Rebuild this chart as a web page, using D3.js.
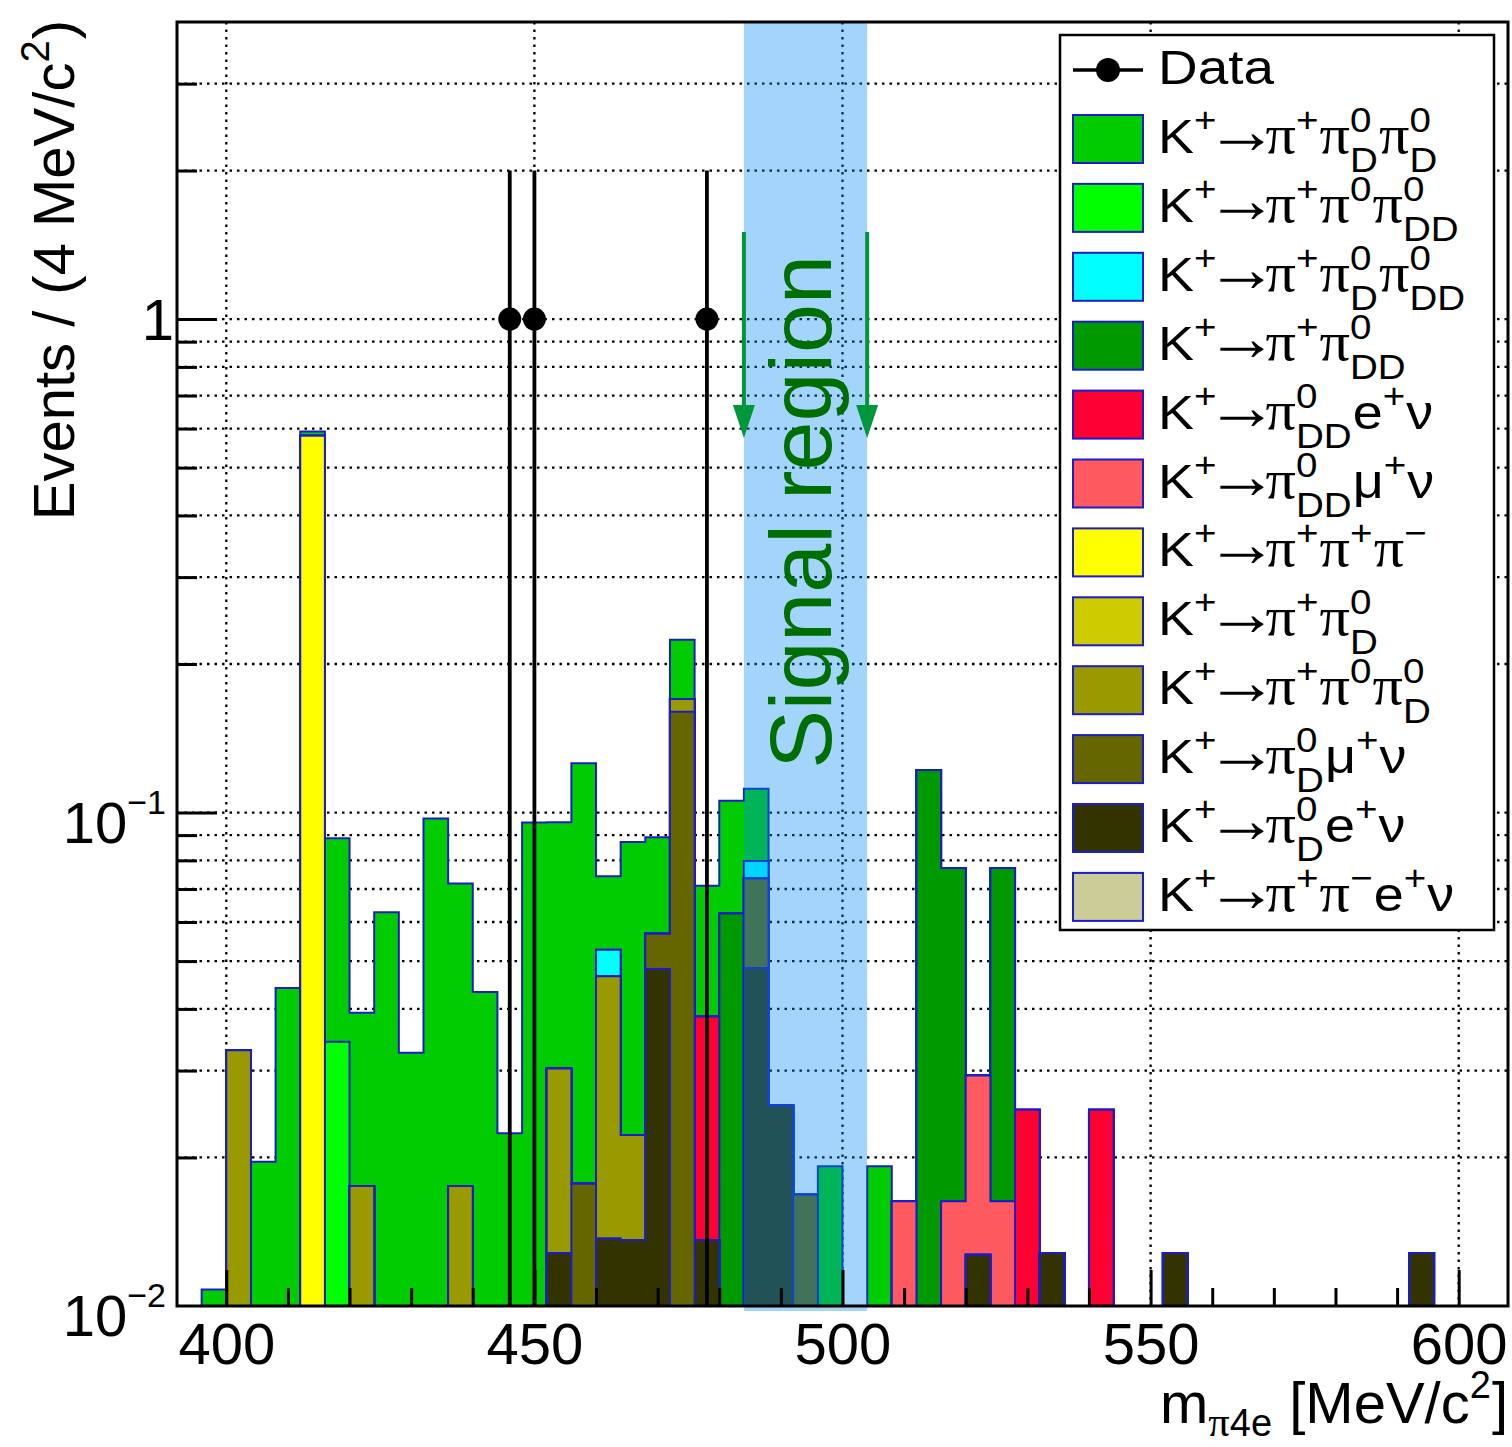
<!DOCTYPE html>
<html>
<head>
<meta charset="utf-8">
<script src="https://cdn.jsdelivr.net/npm/d3@7/dist/d3.min.js"></script>
<style>
  body { margin: 0; background: #fff; }
  text { white-space: pre; }
</style>
</head>
<body>
<svg id="svg"></svg>
<script>
"use strict";

// ---- data ----------------------------------------------------------
var xRange = [392, 608];          // MeV/c2, 4 MeV bins
var yRange = [0.01, 4];
var binWidth = 4;
var xMajor = [400, 450, 500, 550, 600];
var xMinor = [410, 420, 430, 440, 460, 470, 480, 490, 510, 520, 530, 540, 560, 570, 580, 590];
var yMajor = [0.1, 1];
var yMinor = [0.02, 0.03, 0.04, 0.05, 0.06, 0.07, 0.08, 0.09,
              0.2, 0.3, 0.4, 0.5, 0.6, 0.7, 0.8, 0.9, 2, 3];
var yLabels = [[0.01, "10^{\u22122}"], [0.1, "10^{\u22121}"], [1, "1"]];

// stacked MC contributions: [bin lower edge, expected events]
var piPi0DPi0D   = [[396,0.0108],[404,0.0196],[408,0.0441],[412,0.012],[416,0.0544],[420,0.0218],
                    [424,0.0628],[428,0.0326],[432,0.0973],[436,0.0543],[440,0.0433],[444,0.0224],
                    [448,0.0955],[452,0.0653],[456,0.1081],[460,0.0216],[464,0.065],[468,0.0323],
                    [472,0.0542],[476,0.0325],[480,0.0432],[484,0.032],[496,0.0192],[504,0.0192]];
var piPi0Pi0DD   = [[416,0.0343]];
var piPi0DPi0DD  = [[460,0.0061],[484,0.0063]];
var piPi0DD      = [[480,0.0624],[512,0.1219],[516,0.0609],[524,0.0609]];
var pi0DDEnu     = [[476,0.025],[528,0.025],[540,0.025]];
var pi0DDMunu    = [[508,0.0163],[516,0.0163],[520,0.0166],[524,0.0163]];
var piPiPi       = [[412,0.58]];
var piPi0D       = [];
var piPi0Pi0D    = [[400,0.033],[420,0.0175],[436,0.0175],[452,0.0175],[460,0.0329],[464,0.0086],[472,0.0098]];
var pi0DMunu     = [[456,0.0177],[468,0.0086],[472,0.160],[484,0.0251],[492,0.0168]];
var pi0DEnu      = [[452,0.0128],[460,0.0137],[464,0.0136],[468,0.0482],[476,0.0136],[484,0.0484],
                    [488,0.0255],[520,0.0127],[532,0.0128],[552,0.0128],[592,0.0128]];
var piPiEnu      = [];

// data: bin lower edge, counts
var dataBins = [444, 448, 476];
var dataCounts = [1, 1, 1];

var signalRegion = [484, 504];

// legend order (top of stack first)
var series = [
  {key:"a", values:piPi0DPi0D,  color:"#00cc00", label:"K^{+}\u2192\u03c0^{+}\u03c0^{0}_{D}\u03c0^{0}_{D}"},
  {key:"b", values:piPi0Pi0DD,  color:"#00ff00", label:"K^{+}\u2192\u03c0^{+}\u03c0^{0}\u03c0^{0}_{DD}"},
  {key:"c", values:piPi0DPi0DD, color:"#00ffff", label:"K^{+}\u2192\u03c0^{+}\u03c0^{0}_{D}\u03c0^{0}_{DD}"},
  {key:"d", values:piPi0DD,     color:"#009900", label:"K^{+}\u2192\u03c0^{+}\u03c0^{0}_{DD}"},
  {key:"e", values:pi0DDEnu,    color:"#ff0033", label:"K^{+}\u2192\u03c0^{0}_{DD}e^{+}\u03bd"},
  {key:"f", values:pi0DDMunu,   color:"#ff5a60", label:"K^{+}\u2192\u03c0^{0}_{DD}\u03bc^{+}\u03bd"},
  {key:"g", values:piPiPi,      color:"#ffff00", label:"K^{+}\u2192\u03c0^{+}\u03c0^{+}\u03c0^{\u2212}"},
  {key:"h", values:piPi0D,      color:"#cccc00", label:"K^{+}\u2192\u03c0^{+}\u03c0^{0}_{D}"},
  {key:"i", values:piPi0Pi0D,   color:"#999900", label:"K^{+}\u2192\u03c0^{+}\u03c0^{0}\u03c0^{0}_{D}"},
  {key:"j", values:pi0DMunu,    color:"#666600", label:"K^{+}\u2192\u03c0^{0}_{D}\u03bc^{+}\u03bd"},
  {key:"k", values:pi0DEnu,     color:"#333300", label:"K^{+}\u2192\u03c0^{0}_{D}e^{+}\u03bd"},
  {key:"l", values:piPiEnu,     color:"#cccc99", label:"K^{+}\u2192\u03c0^{+}\u03c0^{\u2212}e^{+}\u03bd"}
];

// ---- setup ---------------------------------------------------------
var W = 1512, H = 1447;
var frame = {l:177, r:1508, t:22, b:1306};
var sans = "'Liberation Sans', Arial, Helvetica, sans-serif";
var serif = "'Liberation Serif', 'Times New Roman', serif";
var outline = "#1c1cc8";

var svg = d3.select("#svg").attr("width", W).attr("height", H);
svg.append("rect").attr("width", W).attr("height", H).attr("fill", "#fff");

var x = d3.scaleLinear().domain(xRange).range([frame.l, frame.r]);
var y = d3.scaleLog().domain(yRange).range([frame.b, frame.t]).clamp(true);
var yv = function(v){ return y(Math.max(v, 1e-4)); };

// grid
var grid = svg.append("g")
  .attr("stroke", "#000")
  .attr("stroke-width", 2.3)
  .attr("stroke-dasharray", "2.5 5");
grid.selectAll("line.gy").data(yMinor.concat(yMajor)).enter().append("line")
  .attr("class", "gy")
  .attr("x1", frame.l).attr("x2", frame.r)
  .attr("y1", function(d){ return y(d); }).attr("y2", function(d){ return y(d); });
grid.selectAll("line.gx").data(xMajor).enter().append("line")
  .attr("class", "gx")
  .attr("y1", frame.t).attr("y2", frame.b)
  .attr("x1", function(d){ return x(d); }).attr("x2", function(d){ return x(d); });

// ---- stacked histogram ---------------------------------------------
var binLow = d3.range(xRange[0], xRange[1], binWidth);
var stackOrder = series.slice().reverse();   // bottom first
var rows = binLow.map(function(m){
  var r = {m:m};
  stackOrder.forEach(function(s){ r[s.key] = 0; });
  return r;
});
stackOrder.forEach(function(s){
  s.values.forEach(function(p){ rows[(p[0] - xRange[0]) / binWidth][s.key] = p[1]; });
});
var stacked = d3.stack().keys(stackOrder.map(function(s){ return s.key; }))(rows);

var area = d3.area()
  .curve(d3.curveStepAfter)
  .x(function(d){ return x(d.m); })
  .y0(frame.b)
  .y1(function(d){ return yv(d.v); });

var histG = svg.append("g");
for (var k = stacked.length - 1; k >= 0; k--) {
  var pts = stacked[k].map(function(d){ return {m:d.data.m, v:d[1]}; });
  pts.push({m:xRange[1], v:0});
  histG.append("path")
    .datum(pts)
    .attr("d", area)
    .attr("fill", stackOrder[k].color)
    .attr("stroke", outline)
    .attr("stroke-width", 2);
}

// ---- data points ---------------------------------------------------
var dataPts = dataBins.map(function(m, i){ return {m:m + binWidth/2, n:dataCounts[i]}; });
var dataG = svg.append("g");
dataG.selectAll("line").data(dataPts).enter().append("line")
  .attr("x1", function(d){ return x(d.m); }).attr("x2", function(d){ return x(d.m); })
  .attr("y1", function(d){ return yv(d.n + Math.sqrt(d.n)); })
  .attr("y2", function(d){ return yv(d.n - Math.sqrt(d.n)); })
  .attr("stroke", "#000").attr("stroke-width", 3.8);
dataG.selectAll("circle").data(dataPts).enter().append("circle")
  .attr("cx", function(d){ return x(d.m); })
  .attr("cy", function(d){ return y(d.n); })
  .attr("r", 11.5).attr("fill", "#000");

// ---- signal region -------------------------------------------------
svg.append("rect")
  .attr("x", x(signalRegion[0])).attr("width", x(signalRegion[1]) - x(signalRegion[0]))
  .attr("y", frame.t).attr("height", frame.b - frame.t + 5)
  .attr("fill", "rgb(0,138,244)").attr("fill-opacity", 0.36);

var arrowG = svg.append("g").attr("fill", "#00963c").attr("stroke", "#00963c");
signalRegion.forEach(function(m){
  var ax = x(m);
  arrowG.append("line").attr("x1", ax).attr("x2", ax).attr("y1", 232).attr("y2", 410)
    .attr("stroke-width", 4);
  arrowG.append("path")
    .attr("d", "M" + (ax - 11) + ",405L" + (ax + 11) + ",405L" + ax + ",438Z")
    .attr("stroke", "none");
});

svg.append("text")
  .attr("transform", "translate(831," + 512 + ") rotate(-90)")
  .attr("text-anchor", "middle")
  .attr("font-family", sans).attr("font-size", 88)
  .attr("fill", "#006e00")
  .text("Signal region");

// ---- axes ----------------------------------------------------------
function styleAxis(g){
  g.select(".domain").remove();
  g.selectAll(".tick line").attr("stroke", "#000").attr("stroke-width", 3);
}
svg.append("g").attr("transform", "translate(0," + frame.b + ")")
  .call(d3.axisTop(x).tickValues(xMajor).tickSize(36).tickFormat(""))
  .call(styleAxis);
svg.append("g").attr("transform", "translate(0," + frame.b + ")")
  .call(d3.axisTop(x).tickValues(xMinor).tickSize(18).tickFormat(""))
  .call(styleAxis);
svg.append("g").attr("transform", "translate(" + frame.l + ",0)")
  .call(d3.axisRight(y).tickValues(yMajor).tickSize(40).tickFormat(""))
  .call(styleAxis);
svg.append("g").attr("transform", "translate(" + frame.l + ",0)")
  .call(d3.axisRight(y).tickValues(yMinor).tickSize(20).tickFormat(""))
  .call(styleAxis);

svg.append("rect")
  .attr("x", frame.l).attr("y", frame.t)
  .attr("width", frame.r - frame.l).attr("height", frame.b - frame.t)
  .attr("fill", "none").attr("stroke", "#000").attr("stroke-width", 3);

// x tick labels
svg.append("g").attr("transform", "translate(0," + frame.b + ")")
  .call(d3.axisBottom(x).tickValues(xMajor).tickSize(0).tickPadding(17))
  .call(function(g){
    g.select(".domain").remove();
    g.selectAll("text").attr("font-family", sans).attr("font-size", 58).attr("fill", "#000");
  });

// ---- little TLatex-like writer -------------------------------------
function parseTex(s){
  var out = [], i = 0;
  while (i < s.length) {
    var c = s[i];
    if ((c === "^" || c === "_") && s[i + 1] === "{") {
      var j = s.indexOf("}", i), t = s.slice(i + 2, j);
      var last = out[out.length - 1];
      if (!(last && last.kind === "script" && !last[c === "^" ? "sup" : "sub"])) {
        last = {kind:"script"}; out.push(last);
      }
      last[c === "^" ? "sup" : "sub"] = t;
      i = j + 1;
    } else {
      var prev = out[out.length - 1];
      if (prev && prev.kind === "text") prev.t += c; else out.push({kind:"text", t:c});
      i++;
    }
  }
  return out;
}
// font, size factor, side trim (em) per glyph class
function fontOf(c){
  if (c === "\u03c0") return {f:serif, s:1.12, k:"pi", trim:0};
  if (c === "\u2192") return {f:serif, s:1.35, k:"arrow", trim:0.17};
  return {f:sans, s:1, k:"sans", trim:0};
}
function drawRuns(g, str, x0, y0, fs){
  var runs = [];
  str.split("").forEach(function(c){
    var f = fontOf(c), r = runs[runs.length - 1];
    if (r && r.k === f.k) r.t += c; else runs.push({t:c, f:f.f, s:f.s, k:f.k, trim:f.trim});
  });
  var cx = x0;
  runs.forEach(function(r){
    var size = fs * r.s, tr = r.trim * size;
    var t = g.append("text").attr("x", cx - tr).attr("y", y0)
      .attr("font-size", size).attr("font-family", r.f)
      .attr("fill", "#000").text(r.t);
    cx += t.node().getComputedTextLength() - 2 * tr;
  });
  return cx - x0;
}
function drawTex(g, s, fs, sfs, supDy, subDy){
  var cx = 0;
  parseTex(s).forEach(function(tk){
    if (tk.kind === "text") { cx += drawRuns(g, tk.t, cx, 0, fs); return; }
    var w = 0;
    if (tk.sup) w = Math.max(w, drawRuns(g, tk.sup, cx, supDy, sfs));
    if (tk.sub) w = Math.max(w, drawRuns(g, tk.sub, cx, subDy, sfs));
    cx += w + 1;
  });
  return cx;
}

// y tick labels
yLabels.forEach(function(l){
  var g = svg.append("g");
  var w = drawTex(g, l[1], 58, 34, -29, 15);
  var base = l[0] === 1 ? y(l[0]) + 21 : y(l[0]) + 30;
  g.attr("transform", "translate(" + ((l[0] === 1 ? 174 : 167) - w) + "," + base + ")");
});

// axis titles
var xt = svg.append("g");
var xw = drawTex(xt, "m_{\u03c04e} [MeV/c^{2}]", 58, 38, -25, 13);
xt.attr("transform", "translate(" + (1508 - xw) + ",1423)");

var yt = svg.append("g");
var yw = drawTex(yt, "Events / (4 MeV/c^{2})", 58, 40, -25, 15);
yt.attr("transform", "translate(74," + (20 + yw) + ") rotate(-90)");

// ---- legend --------------------------------------------------------
var leg = {l:1060, t:35, r:1494, b:930, sx:1073, sw:70, sh:48, tx:1158, y0:70, y1:139, dy:68.9};
var legG = svg.append("g");
legG.append("rect")
  .attr("x", leg.l).attr("y", leg.t)
  .attr("width", leg.r - leg.l).attr("height", leg.b - leg.t)
  .attr("fill", "#fff").attr("stroke", "#000").attr("stroke-width", 2.5);

legG.append("line")
  .attr("x1", leg.sx).attr("x2", leg.sx + leg.sw).attr("y1", leg.y0).attr("y2", leg.y0)
  .attr("stroke", "#000").attr("stroke-width", 3.5);
legG.append("circle").attr("cx", leg.sx + leg.sw / 2).attr("cy", leg.y0).attr("r", 12).attr("fill", "#000");
var dt = legG.append("g").attr("transform", "translate(" + leg.tx + "," + (leg.y0 + 14) + ") scale(1.12,1)");
drawTex(dt, "Data", 49, 35, -21, 19);

series.forEach(function(s, i){
  var yc = leg.y1 + i * leg.dy;
  legG.append("rect")
    .attr("x", leg.sx).attr("y", yc - leg.sh / 2)
    .attr("width", leg.sw).attr("height", leg.sh)
    .attr("fill", s.color).attr("stroke", outline).attr("stroke-width", 2);
  var tg = legG.append("g").attr("transform", "translate(" + leg.tx + "," + (yc + 14) + ") scale(1.1,1)");
  drawTex(tg, s.label, 49, 35, -21, 19);
});
</script>
</body>
</html>
